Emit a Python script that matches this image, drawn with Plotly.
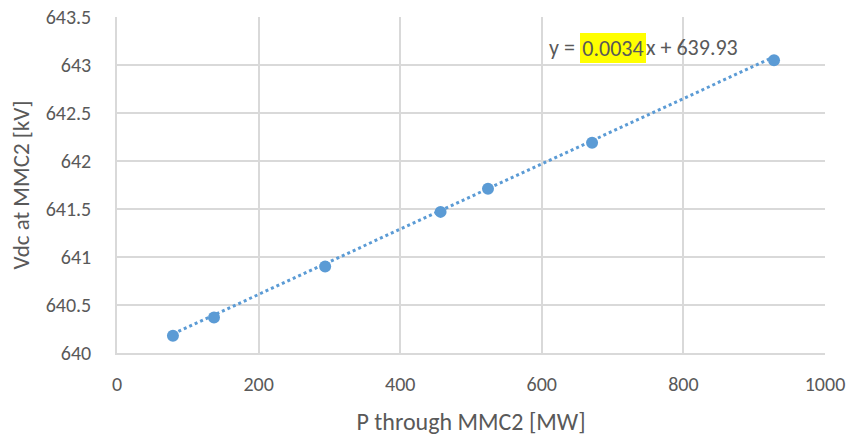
import plotly.graph_objects as go

# Measured operating points
p_mw = [79, 137, 294, 457, 524, 671, 928]
vdc_kv = [640.18, 640.37, 640.90, 641.47, 641.71, 642.19, 643.05]

# Linear trendline coefficients (as printed in the equation label)
slope = 0.0034
intercept = 639.93

x_ticks = [0, 200, 400, 600, 800, 1000]
y_ticks = [640, 640.5, 641, 641.5, 642, 642.5, 643, 643.5]
y_tick_text = ["640", "640.5", "641", "641.5", "642", "642.5", "643", "643.5"]

FONT = "Carlito, Calibri, Lato, sans-serif"
GRAY = "#595959"
BLUE = "#5B9BD5"
GRID = "#D9D9D9"

trend_x = [min(p_mw), max(p_mw)]
trend_y = [slope * x + intercept for x in trend_x]

fig = go.Figure()
fig.add_trace(go.Scatter(
    x=trend_x, y=trend_y, mode="lines",
    line=dict(color=BLUE, width=3, dash="dot"),
    hoverinfo="skip", showlegend=False,
))
fig.add_trace(go.Scatter(
    x=p_mw, y=vdc_kv, mode="markers",
    marker=dict(color=BLUE, size=12),
    showlegend=False,
))

# Trendline equation, with the slope highlighted
eq_font = dict(family=FONT, size=22, color=GRAY)
eq_y = 0.908
hl_left, hl_right = 0.654, 0.747
fig.add_annotation(xref="paper", yref="paper", x=hl_left, y=eq_y,
                   xanchor="right", yanchor="middle", showarrow=False,
                   text="y = ", font=eq_font, borderpad=0, borderwidth=0)
fig.add_annotation(xref="paper", yref="paper", x=hl_left, y=eq_y,
                   xanchor="left", yanchor="middle", showarrow=False,
                   text=f"{slope:.4f}", bgcolor="#FFFF00",
                   width=66, height=30, align="center",
                   borderpad=0, borderwidth=0, font=eq_font)
fig.add_annotation(xref="paper", yref="paper", x=hl_right, y=eq_y,
                   xanchor="left", yanchor="middle", showarrow=False,
                   text=f"x + {intercept:.2f}", font=eq_font,
                   borderpad=0, borderwidth=0)

fig.update_layout(
    width=849, height=437,
    margin=dict(l=117, r=24, t=17, b=84),
    paper_bgcolor="white", plot_bgcolor="white",
    font=dict(family=FONT, size=20, color=GRAY),
    xaxis=dict(
        range=[0, 1000], tickvals=x_ticks, automargin=False,
        showgrid=True, gridcolor=GRID, gridwidth=1.5,
        showline=True, linecolor=GRID, linewidth=1.5,
        zeroline=False, ticks="outside", ticklen=12,
        tickcolor="rgba(0,0,0,0)",
        title=dict(text="P through MMC2 [MW]", standoff=18,
                   font=dict(family=FONT, size=24, color=GRAY)),
    ),
    yaxis=dict(
        range=[640, 643.5], tickvals=y_ticks, ticktext=y_tick_text,
        automargin=False,
        showgrid=True, gridcolor=GRID, gridwidth=1.5,
        showline=True, linecolor=GRID, linewidth=1.5,
        zeroline=False, ticks="outside", ticklen=20,
        tickcolor="rgba(0,0,0,0)",
        title=dict(text="Vdc at MMC2 [kV]", standoff=10,
                   font=dict(family=FONT, size=23, color=GRAY)),
    ),
)

fig.write_html("out.html")
